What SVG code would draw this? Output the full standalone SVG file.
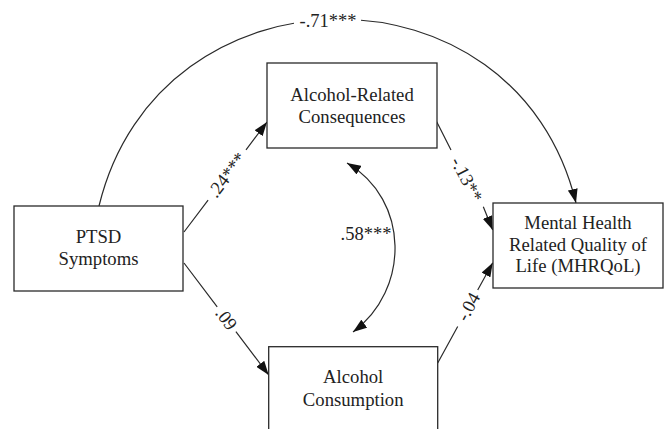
<svg xmlns="http://www.w3.org/2000/svg" width="666" height="429" viewBox="0 0 666 429">
  <style>
    .box { fill: #ffffff; stroke: #2a2a2a; stroke-width: 1.3; }
    .lbl { font-family: "Liberation Serif", "Times New Roman", serif; font-size: 18.7px; fill: #222222; text-anchor: middle; }
    .coef { font-family: "Liberation Serif", "Times New Roman", serif; font-size: 18.5px; fill: #222222; text-anchor: middle; }
    .edge { fill: none; stroke: #2a2a2a; stroke-width: 1.2; }
  </style>
  <defs>
    <marker id="arrow" markerUnits="userSpaceOnUse" markerWidth="14" markerHeight="10" refX="14" refY="5" orient="auto-start-reverse" viewBox="0 0 14 10">
      <path d="M0,0 L14,5 L0,10 z" fill="#111111"/>
    </marker>
  </defs>
  <rect x="0" y="0" width="666" height="429" fill="#ffffff"/>

  <g id="connectors">
    <!-- PTSD -> MHRQoL (curved) -->
    <path class="edge" d="M99,206 C159,-41 516,-44 576,203" marker-end="url(#arrow)"/>
    <rect x="294" y="9" width="67" height="22" fill="#ffffff"/>
    <text class="coef" x="328" y="27">-.71***</text>

    <!-- PTSD -> Alcohol-Related Consequences -->
    <path class="edge" d="M184,232 L208.1,200.1 M246,149.8 L267,122" marker-end="url(#arrow)"/>
    <text class="coef" transform="translate(227,175) rotate(-53)" x="0" y="6">.24***</text>

    <!-- PTSD -> Alcohol Consumption -->
    <path class="edge" d="M184,263 L217.2,306.9 M235.9,331.6 L268.7,375" marker-end="url(#arrow)"/>
    <text class="coef" transform="translate(226.2,318.9) rotate(53)" x="0" y="6">.09</text>

    <!-- Alcohol-Related Consequences -> MHRQoL -->
    <path class="edge" d="M436.7,121.7 L451,150 M483.3,206.7 L492.7,230" marker-end="url(#arrow)"/>
    <text class="coef" transform="translate(466.5,179.4) rotate(62.7)" x="0" y="6">-.13**</text>

    <!-- Alcohol Consumption -> MHRQoL -->
    <path class="edge" d="M437.7,363 L457.7,326.5 M477.7,290 L492.7,262.7" marker-end="url(#arrow)"/>
    <text class="coef" transform="translate(468.5,306.9) rotate(-61.3)" x="0" y="6">-.04</text>

    <!-- Correlation between Alcohol-Related Consequences and Alcohol Consumption -->
    <path class="edge" d="M347,163 C410,200 410,290 353,332" marker-start="url(#arrow)" marker-end="url(#arrow)"/>
    <text class="coef" x="366" y="240">.58***</text>
  </g>

  <g id="node-arc">
    <rect class="box" x="267" y="63" width="170" height="85"/>
    <text class="lbl" x="352" y="100.5">Alcohol-Related</text>
    <text class="lbl" x="352" y="122.5">Consequences</text>
  </g>

  <g id="node-ptsd">
    <rect class="box" x="14" y="206" width="169" height="85"/>
    <text class="lbl" x="98.5" y="243">PTSD</text>
    <text class="lbl" x="98.5" y="265">Symptoms</text>
  </g>

  <g id="node-mhrqol">
    <rect class="box" x="493" y="203" width="170" height="85"/>
    <text class="lbl" x="578" y="229">Mental Health</text>
    <text class="lbl" x="578" y="250.5">Related Quality of</text>
    <text class="lbl" x="578" y="272">Life (MHRQoL)</text>
  </g>

  <g id="node-consumption">
    <rect class="box" x="268.7" y="346.7" width="169" height="100"/>
    <text class="lbl" x="353.2" y="382.5">Alcohol</text>
    <text class="lbl" x="353.2" y="405.5">Consumption</text>
  </g>
</svg>
